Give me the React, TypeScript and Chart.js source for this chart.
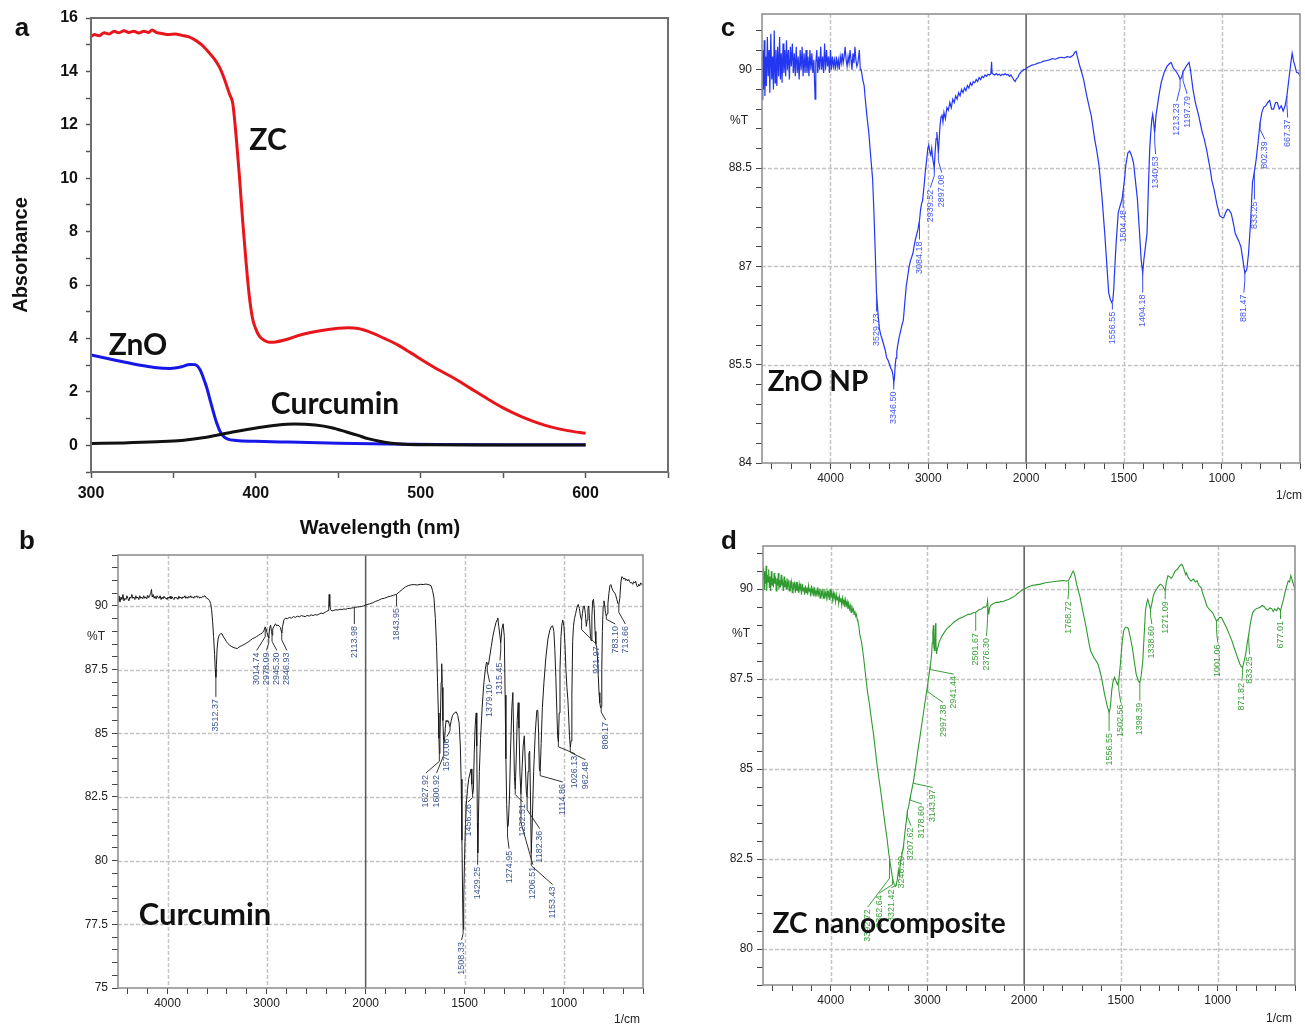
import React, { useEffect, useRef } from "react";
import { Chart, registerables } from "chart.js";

Chart.register(...registerables);

type Pt = [number, number];
type Ann = { w: number; from: number; to: number; text: string; lx?: number };

// ---------------- Panel a : UV-vis ----------------
const uvXLabels = [300, 400, 500, 600];
const uvYLabels = [0, 2, 4, 6, 8, 10, 12, 14, 16];

const zcUv: Pt[] = [
  [300, 15.3], [302, 15.38], [305, 15.34], [308, 15.45], [311, 15.4], [314, 15.5], [317, 15.45],
  [320, 15.52], [323, 15.46], [326, 15.5], [329, 15.44], [332, 15.5], [335, 15.46], [337, 15.55],
  [340, 15.45], [343, 15.42], [347, 15.38], [351, 15.4], [355, 15.35], [359, 15.3], [363, 15.18],
  [367, 15.0], [371, 14.75], [375, 14.45], [378, 14.15], [381, 13.7], [384, 13.15], [386, 12.8],
  [388, 11.6], [390, 10.1], [392, 8.4], [394, 6.9], [396, 5.6], [398, 4.75], [400, 4.35],
  [402, 4.1], [405, 3.93], [408, 3.86], [412, 3.87], [418, 3.95], [428, 4.15], [440, 4.3],
  [450, 4.38], [456, 4.4], [462, 4.37], [470, 4.22], [478, 4.0], [486, 3.76], [494, 3.46],
  [502, 3.15], [511, 2.82], [520, 2.52], [530, 2.14], [540, 1.76], [550, 1.4], [560, 1.1],
  [570, 0.86], [580, 0.67], [590, 0.54], [600, 0.45],
];

const znoUv: Pt[] = [
  [300, 3.38], [310, 3.25], [320, 3.12], [330, 3.0], [340, 2.9], [348, 2.88], [355, 2.94],
  [360, 3.03], [363, 3.02], [366, 2.85], [368, 2.55], [370, 2.2], [372, 1.75], [374, 1.3],
  [376, 0.88], [378, 0.56], [380, 0.36], [383, 0.23], [388, 0.18], [400, 0.15], [420, 0.12],
  [450, 0.08], [480, 0.05], [510, 0.03], [550, 0.02], [600, 0.02],
];

const curcuminUv: Pt[] = [
  [300, 0.07], [320, 0.09], [340, 0.13], [355, 0.18], [370, 0.3], [386, 0.5], [402, 0.67],
  [412, 0.75], [423, 0.8], [436, 0.76], [446, 0.66], [455, 0.5], [462, 0.37], [468, 0.25],
  [475, 0.15], [481, 0.09], [490, 0.04], [505, 0.02], [540, 0.01], [600, 0.01],
];

// ---------------- IR common ----------------
const irMajorWavenumbers = [4000, 3000, 2000, 1500, 1000];

// ---------------- Panel b : Curcumin IR ----------------
const curcuminIrYLabels = [75, 77.5, 80, 82.5, 85, 87.5, 90];
const curcuminIr: Pt[] = [
  [4500, 90.2], [4490, 90.4], [4480, 90.15], [4470, 90.35], [4460, 90.25], [4450, 90.45], [4440, 90.2],
  [4430, 90.3], [4420, 90.25], [4410, 90.4], [4400, 90.3], [4390, 90.2], [4380, 90.35], [4370, 90.3],
  [4360, 90.45], [4350, 90.3], [4340, 90.35], [4330, 90.25], [4320, 90.4], [4310, 90.3], [4300, 90.35],
  [4290, 90.25], [4280, 90.4], [4270, 90.3], [4260, 90.35], [4250, 90.28], [4240, 90.4], [4230, 90.3],
  [4220, 90.36], [4210, 90.28], [4200, 90.42], [4190, 90.32], [4180, 90.4], [4170, 90.5], [4162, 90.65],
  [4155, 90.35], [4145, 90.45], [4135, 90.3], [4125, 90.38], [4115, 90.28], [4105, 90.4], [4095, 90.33],
  [4085, 90.3], [4075, 90.4], [4065, 90.25], [4055, 90.35], [4045, 90.28], [4035, 90.38], [4025, 90.3],
  [4015, 90.32], [4005, 90.25], [3995, 90.35], [3985, 90.3], [3975, 90.38], [3965, 90.28], [3955, 90.36],
  [3945, 90.3], [3935, 90.25], [3925, 90.35], [3915, 90.3], [3905, 90.33], [3895, 90.26], [3885, 90.38],
  [3875, 90.3], [3865, 90.35], [3855, 90.28], [3845, 90.36], [3835, 90.32], [3825, 90.4], [3815, 90.3],
  [3805, 90.36], [3795, 90.3], [3785, 90.38], [3775, 90.33], [3765, 90.4], [3755, 90.32], [3745, 90.36],
  [3735, 90.3], [3725, 90.38], [3715, 90.34], [3705, 90.4], [3695, 90.33], [3685, 90.37], [3675, 90.3],
  [3665, 90.35], [3655, 90.32], [3645, 90.38], [3635, 90.36], [3622, 90.4], [3605, 90.3], [3590, 90.28],
  [3575, 90.2], [3565, 90.1], [3555, 89.85], [3545, 89.4], [3535, 88.8], [3525, 88.1], [3518, 87.5],
  [3512, 87.2], [3506, 87.7], [3500, 88.3], [3490, 88.7], [3478, 88.85], [3462, 88.92], [3450, 88.9],
  [3435, 88.78], [3420, 88.7], [3405, 88.6], [3390, 88.52], [3370, 88.45], [3350, 88.4], [3330, 88.36],
  [3310, 88.34], [3295, 88.33], [3280, 88.38], [3260, 88.42], [3240, 88.46], [3220, 88.5], [3200, 88.55],
  [3180, 88.6], [3160, 88.66], [3140, 88.72], [3120, 88.75], [3100, 88.8], [3080, 88.85], [3060, 88.9],
  [3040, 88.95], [3025, 89.05], [3014, 89.18], [3005, 89.1], [2995, 88.95], [2985, 88.8], [2978, 88.75],
  [2970, 89.1], [2960, 89.25], [2950, 89.0], [2945, 88.85], [2938, 89.1], [2925, 89.2], [2910, 89.3],
  [2900, 89.22], [2885, 89.25], [2870, 89.2], [2860, 89.15], [2850, 88.98], [2846, 88.95], [2838, 89.2],
  [2825, 89.45], [2810, 89.52], [2790, 89.5], [2770, 89.55], [2750, 89.52], [2730, 89.58], [2710, 89.55],
  [2690, 89.6], [2670, 89.57], [2650, 89.62], [2630, 89.6], [2610, 89.58], [2590, 89.63], [2570, 89.6],
  [2550, 89.65], [2530, 89.62], [2510, 89.66], [2490, 89.64], [2470, 89.68], [2450, 89.72], [2430, 89.7],
  [2410, 89.75], [2395, 89.78], [2380, 89.82], [2372, 90.1], [2368, 90.45], [2364, 90.3], [2360, 90.0],
  [2352, 89.85], [2340, 89.8], [2320, 89.83], [2300, 89.85], [2280, 89.84], [2260, 89.87], [2240, 89.86],
  [2220, 89.88], [2200, 89.87], [2180, 89.9], [2160, 89.9], [2140, 89.92], [2120, 89.93], [2100, 89.95],
  [2080, 89.96], [2060, 89.97], [2040, 89.98], [2020, 90.0], [2000, 90.04],
  [1980, 90.08], [1965, 90.12], [1950, 90.18], [1935, 90.22], [1920, 90.28], [1905, 90.3], [1890, 90.35],
  [1875, 90.38], [1860, 90.42], [1845, 90.45], [1830, 90.55], [1815, 90.65], [1800, 90.74], [1785, 90.8],
  [1770, 90.83], [1755, 90.84], [1740, 90.82], [1725, 90.85], [1710, 90.84], [1695, 90.86], [1680, 90.83],
  [1670, 90.8], [1662, 90.6], [1655, 90.3], [1648, 89.5], [1642, 88.4], [1637, 87.0], [1633, 85.8],
  [1630, 84.8], [1628, 84.2], [1625, 84.8], [1622, 85.8], [1619, 87.0], [1616, 87.73], [1613, 86.8],
  [1610, 85.5], [1606, 84.6], [1602, 84.7], [1598, 85.2], [1594, 85.5], [1590, 85.45], [1586, 85.5],
  [1582, 85.48], [1578, 85.35], [1574, 85.26], [1568, 85.5], [1561, 85.71], [1552, 85.8], [1543, 85.84],
  [1535, 85.7], [1528, 85.4], [1522, 84.5], [1518, 83.2], [1514, 80.8], [1510, 78.3], [1508, 77.3],
  [1505, 78.5], [1501, 80.0], [1497, 81.2], [1492, 82.2], [1486, 82.8], [1480, 83.2], [1474, 83.4],
  [1468, 83.6], [1464, 83.0], [1460, 82.6], [1456, 82.8], [1452, 84.2], [1447, 85.3], [1442, 85.8],
  [1439, 84.5], [1436, 81.5], [1434, 80.3], [1431, 81.5], [1426, 83.5], [1420, 84.8], [1412, 86.0],
  [1404, 86.9], [1396, 87.5], [1390, 87.8], [1385, 87.75], [1380, 87.7], [1374, 88.0], [1366, 88.4],
  [1358, 88.8], [1350, 89.1], [1342, 89.35], [1336, 89.45], [1333, 89.53], [1328, 89.2], [1318, 88.55],
  [1312, 89.1], [1306, 89.3], [1300, 88.8], [1296, 86.5], [1292, 84.0], [1288, 82.2], [1284, 81.3],
  [1280, 81.4], [1274, 82.5], [1268, 84.5], [1262, 86.0], [1257, 86.6], [1253, 85.0], [1249, 83.3],
  [1245, 82.8], [1240, 84.0], [1235, 85.5], [1230, 86.2], [1226, 85.2], [1221, 83.4], [1216, 82.6],
  [1211, 83.5], [1205, 84.5], [1199, 84.9], [1194, 83.8], [1189, 82.7], [1185, 82.5], [1180, 83.5],
  [1176, 84.2], [1172, 84.3], [1168, 82.5], [1164, 80.3], [1160, 81.2], [1152, 83.5], [1144, 85.0],
  [1136, 85.9], [1131, 85.9], [1127, 85.0], [1123, 83.6], [1119, 83.5], [1114, 84.6], [1108, 86.0],
  [1100, 87.0], [1090, 88.0], [1080, 88.7], [1070, 89.05], [1062, 89.2], [1056, 89.22], [1050, 89.0],
  [1045, 88.3], [1040, 87.2], [1035, 85.9], [1031, 84.9], [1027, 84.65], [1023, 85.8], [1019, 87.5],
  [1014, 88.8], [1009, 89.3], [1005, 89.45], [999, 89.2], [994, 88.5], [989, 87.5], [984, 86.8],
  [979, 86.3], [975, 85.6], [971, 84.9], [967, 84.45], [963, 84.7], [959, 86.5], [955, 88.6],
  [951, 89.2], [946, 89.5], [940, 89.7], [933, 89.95], [927, 90.06], [921, 89.9], [915, 89.55],
  [910, 89.45], [906, 89.7], [901, 89.98], [896, 90.0], [891, 89.7], [886, 89.2], [882, 89.45],
  [878, 89.9], [874, 90.0], [870, 89.5], [866, 88.9], [862, 88.64], [858, 89.6], [854, 90.2],
  [850, 90.26], [846, 89.9], [842, 89.0], [838, 88.5], [834, 88.38], [830, 88.0], [826, 87.3],
  [822, 86.6], [818, 86.2], [814, 86.0], [811, 86.04], [808, 87.5], [805, 89.0], [801, 90.0],
  [797, 90.2], [793, 90.0], [789, 89.7], [785, 89.6], [781, 89.7], [777, 90.1], [772, 90.5],
  [767, 90.8], [762, 90.84], [757, 90.7], [752, 90.6], [747, 90.55], [742, 90.5], [737, 90.4],
  [732, 90.25], [727, 90.1], [722, 90.06], [717, 90.3], [712, 90.9], [707, 91.15], [702, 91.12],
  [697, 91.05], [692, 91.1], [687, 91.0], [682, 91.05], [677, 90.98], [672, 91.04], [667, 90.95],
  [662, 90.9], [657, 90.92], [652, 90.85], [647, 90.95], [642, 90.9], [637, 90.97], [632, 90.8],
  [627, 90.75], [622, 90.85], [617, 90.78], [612, 90.9], [605, 90.85], [600, 90.8],
];
const curcuminPeaks: Ann[] = [
  { w: 3512, from: 87.2, to: 86.43, text: "3512.37" },
  { w: 3014, from: 89.15, to: 88.25, lx: 3100, text: "3014.74" },
  { w: 2978, from: 88.75, to: 88.25, lx: 3000, text: "2978.09" },
  { w: 2945, from: 88.85, to: 88.25, lx: 2896, text: "2945.30" },
  { w: 2847, from: 88.95, to: 88.25, lx: 2795, text: "2846.93" },
  { w: 2114, from: 89.94, to: 89.29, text: "2113.98" },
  { w: 1844, from: 90.45, to: 90.0, text: "1843.95" },
  { w: 1628, from: 84.2, to: 83.44, lx: 1696, text: "1627.92" },
  { w: 1606, from: 84.6, to: 83.44, lx: 1642, text: "1600.92" },
  { w: 1574, from: 85.26, to: 84.87, lx: 1590, text: "1570.06" },
  { w: 1508, from: 77.3, to: 76.88, lx: 1516, text: "1508.33" },
  { w: 1460, from: 82.6, to: 82.3, lx: 1483, text: "1456.26" },
  { w: 1434, from: 80.3, to: 79.84, lx: 1435, text: "1429.25" },
  { w: 1386, from: 87.75, to: 87.0, lx: 1374, text: "1379.10" },
  { w: 1318, from: 88.55, to: 87.86, lx: 1322, text: "1315.45" },
  { w: 1284, from: 81.3, to: 80.47, lx: 1276, text: "1274.95" },
  { w: 1245, from: 82.8, to: 82.3, lx: 1207, text: "1232.51" },
  { w: 1216, from: 82.6, to: 79.84, lx: 1156, text: "1206.51" },
  { w: 1185, from: 82.5, to: 81.25, lx: 1121, text: "1182.36" },
  { w: 1164, from: 80.3, to: 79.06, lx: 1056, text: "1153.43" },
  { w: 1119, from: 83.5, to: 83.09, lx: 1005, text: "1114.86" },
  { w: 1027, from: 84.65, to: 84.2, lx: 944, text: "1026.13" },
  { w: 967, from: 84.45, to: 83.96, lx: 890, text: "962.48" },
  { w: 910, from: 89.45, to: 88.5, lx: 836, text: "921.97" },
  { w: 811, from: 86.04, to: 85.52, lx: 788, text: "808.17" },
  { w: 785, from: 89.6, to: 89.29, lx: 740, text: "783.10" },
  { w: 722, from: 90.06, to: 89.29, lx: 689, text: "713.66" },
];

// ---------------- Panel c : ZnO NP IR ----------------
const znoIrYLabels = [84, 85.5, 87, 88.5, 90];
const znoIr: Pt[] = [
  [4700, 89.55], [4692, 90.3], [4685, 89.7], [4677, 90.45], [4670, 89.6], [4662, 90.2], [4655, 89.75],
  [4645, 90.5], [4637, 89.9], [4628, 90.3], [4620, 89.65], [4610, 90.55], [4600, 89.85], [4592, 90.2],
  [4583, 89.7], [4575, 90.6], [4566, 89.8], [4557, 90.3], [4548, 89.75], [4540, 90.35], [4530, 89.9],
  [4520, 90.5], [4512, 89.85], [4503, 90.25], [4495, 89.8], [4485, 90.4], [4476, 89.95], [4468, 90.3],
  [4458, 89.9], [4450, 90.45], [4440, 90.0], [4430, 90.3], [4420, 89.85], [4410, 90.35], [4400, 90.05],
  [4390, 90.4], [4380, 89.95], [4370, 90.25], [4360, 89.9], [4350, 90.35], [4340, 89.95], [4330, 90.2],
  [4320, 89.85], [4310, 90.3], [4300, 90.0], [4290, 90.35], [4280, 89.9], [4270, 90.25], [4260, 89.95],
  [4250, 90.3], [4240, 89.95], [4230, 90.2], [4220, 89.9], [4210, 90.3], [4200, 90.0], [4190, 90.25],
  [4180, 89.95], [4170, 90.15], [4157, 89.55], [4150, 90.1], [4140, 90.3], [4130, 89.95], [4120, 90.2],
  [4110, 90.0], [4100, 90.35], [4090, 90.0], [4080, 90.2], [4070, 89.95], [4060, 90.4], [4050, 90.0],
  [4040, 90.3], [4030, 90.05], [4020, 90.2], [4010, 89.95], [4000, 90.3], [3990, 90.0], [3980, 90.2],
  [3970, 90.05], [3960, 90.15], [3950, 90.0], [3940, 90.2], [3930, 90.05], [3920, 90.15], [3910, 90.0],
  [3900, 90.2], [3890, 90.1], [3880, 90.25], [3870, 90.1], [3860, 90.2], [3850, 90.35], [3840, 90.15],
  [3830, 90.05], [3820, 90.2], [3810, 90.1], [3800, 90.3], [3790, 90.15], [3780, 90.0], [3770, 90.25],
  [3760, 90.1], [3750, 90.35], [3740, 90.15], [3730, 90.05], [3720, 90.1], [3705, 90.3], [3695, 90.0],
  [3686, 90.0], [3670, 89.85], [3655, 89.75], [3647, 89.6], [3628, 89.3], [3608, 89.04], [3590, 88.7],
  [3569, 88.33], [3555, 87.8], [3542, 87.2], [3530, 86.6], [3515, 86.3], [3500, 86.05], [3485, 85.95],
  [3470, 85.88], [3455, 85.8], [3440, 85.72], [3425, 85.6], [3412, 85.57], [3395, 85.5], [3385, 85.45],
  [3373, 85.42], [3362, 85.35], [3353, 85.22], [3346, 85.3], [3338, 85.5], [3330, 85.6], [3322, 85.7],
  [3314, 85.78], [3300, 85.9], [3285, 86.0], [3270, 86.1], [3255, 86.18], [3240, 86.45], [3225, 86.7],
  [3210, 86.85], [3196, 87.0], [3180, 87.1], [3168, 87.15], [3157, 87.2], [3140, 87.35], [3125, 87.45],
  [3106, 87.56], [3090, 87.7], [3080, 87.85], [3070, 87.95], [3059, 88.0], [3045, 88.2], [3030, 88.45],
  [3015, 88.65], [3005, 88.8], [2995, 88.85], [2985, 88.75], [2975, 88.7], [2965, 88.8], [2955, 88.65],
  [2945, 88.55], [2939, 88.5], [2930, 88.75], [2920, 88.95], [2912, 89.05], [2905, 88.9], [2897, 88.73],
  [2890, 88.9], [2880, 89.15], [2870, 89.28], [2860, 89.32], [2850, 89.2], [2840, 89.35], [2825, 89.25],
  [2810, 89.42], [2795, 89.38], [2780, 89.5], [2765, 89.42], [2750, 89.55], [2735, 89.5], [2720, 89.6],
  [2705, 89.55], [2690, 89.65], [2675, 89.6], [2660, 89.7], [2645, 89.65], [2630, 89.72], [2615, 89.68],
  [2600, 89.76], [2585, 89.72], [2570, 89.8], [2555, 89.76], [2540, 89.82], [2525, 89.8], [2510, 89.85],
  [2495, 89.82], [2480, 89.88], [2465, 89.85], [2450, 89.9], [2435, 89.88], [2420, 89.92], [2405, 89.9],
  [2390, 89.93], [2375, 89.92], [2360, 89.94], [2353, 90.12], [2348, 89.95], [2335, 89.93], [2320, 89.92],
  [2305, 89.94], [2290, 89.92], [2275, 89.93], [2260, 89.91], [2245, 89.93], [2230, 89.92], [2215, 89.94],
  [2200, 89.92], [2185, 89.93], [2170, 89.9], [2155, 89.92], [2140, 89.88], [2125, 89.84], [2112, 89.82],
  [2100, 89.86], [2085, 89.88], [2070, 89.93], [2055, 89.96], [2040, 89.98], [2025, 90.0], [2010, 90.0],
  [2000, 90.02], [1985, 90.05], [1970, 90.07], [1955, 90.08], [1940, 90.1], [1925, 90.11], [1910, 90.13],
  [1895, 90.14], [1880, 90.15], [1865, 90.17], [1850, 90.16], [1835, 90.18], [1820, 90.19], [1805, 90.18],
  [1790, 90.2], [1775, 90.19], [1760, 90.22], [1750, 90.27], [1744, 90.28], [1738, 90.2], [1728, 90.08],
  [1718, 89.98], [1706, 89.85], [1690, 89.6], [1675, 89.4], [1667, 89.3], [1650, 88.95], [1638, 88.75],
  [1627, 88.53], [1612, 88.05], [1598, 87.5], [1588, 87.05], [1578, 86.6], [1570, 86.5], [1563, 86.45],
  [1557, 86.48], [1552, 86.65], [1549, 86.85], [1540, 87.35], [1529, 87.82], [1520, 87.92], [1510, 88.02],
  [1504, 88.15], [1498, 88.3], [1490, 88.55], [1480, 88.73], [1471, 88.76], [1462, 88.7], [1451, 88.58],
  [1441, 88.3], [1431, 88.02], [1420, 87.5], [1412, 87.1], [1404, 86.9], [1398, 87.1], [1390, 87.3],
  [1382, 87.5], [1375, 88.2], [1368, 88.8], [1363, 89.04], [1357, 89.25], [1353, 89.32], [1348, 89.2],
  [1343, 89.04], [1336, 89.3], [1324, 89.55], [1310, 89.8], [1294, 89.96], [1280, 90.05], [1268, 90.09],
  [1259, 90.11], [1248, 90.03], [1235, 89.98], [1222, 89.92], [1213, 89.86], [1206, 89.88], [1198, 89.97],
  [1192, 90.0], [1180, 90.06], [1167, 90.11], [1160, 90.0], [1147, 89.7], [1135, 89.5], [1118, 89.3],
  [1100, 89.05], [1090, 88.95], [1078, 88.79], [1060, 88.5], [1050, 88.3], [1039, 88.17], [1025, 87.95],
  [1010, 87.77], [1000, 87.75], [990, 87.74], [980, 87.82], [971, 87.87], [962, 87.86], [951, 87.8],
  [940, 87.65], [931, 87.5], [915, 87.4], [902, 87.3], [892, 87.1], [882, 86.9], [872, 86.95],
  [863, 87.2], [852, 87.7], [843, 88.28], [833, 88.45], [824, 88.63], [814, 88.9], [804, 89.19],
  [795, 89.35], [785, 89.43], [775, 89.45], [765, 89.5], [755, 89.53], [745, 89.4], [735, 89.4],
  [725, 89.5], [716, 89.5], [706, 89.4], [696, 89.45], [686, 89.37], [676, 89.45], [667, 89.6],
  [657, 89.85], [647, 90.1], [640, 90.25], [632, 90.12], [625, 90.05], [618, 89.96], [608, 89.95],
  [598, 89.9],
];
const znoPeaks: Ann[] = [
  { w: 3530, from: 86.6, to: 86.31, text: "3529.73" },
  { w: 3353, from: 85.22, to: 85.12, text: "3346.50" },
  { w: 3090, from: 87.7, to: 87.41, text: "3084.18" },
  { w: 2939, from: 88.5, to: 88.2, lx: 2980, text: "2939.52" },
  { w: 2897, from: 88.73, to: 88.43, lx: 2863, text: "2897.08" },
  { w: 1559, from: 86.45, to: 86.34, text: "1556.55" },
  { w: 1504, from: 88.15, to: 87.89, text: "1504.48" },
  { w: 1404, from: 86.9, to: 86.6, text: "1404.18" },
  { w: 1343, from: 89.04, to: 88.71, lx: 1338, text: "1340.53" },
  { w: 1213, from: 89.86, to: 89.52, lx: 1230, text: "1213.23" },
  { w: 1198, from: 89.97, to: 89.63, lx: 1177, text: "1197.79" },
  { w: 882, from: 86.9, to: 86.6, lx: 887, text: "881.47" },
  { w: 833, from: 88.45, to: 88.02, text: "833.25" },
  { w: 804, from: 89.19, to: 88.94, lx: 780, text: "802.39" },
  { w: 667, from: 89.6, to: 89.27, lx: 663, text: "667.37" },
];

// ---------------- Panel d : ZC nanocomposite IR ----------------
const zcIrYLabels = [80, 82.5, 85, 87.5, 90];
const zcIr: Pt[] = [
  [4700, 90.3], [4694, 90.6], [4688, 90.0], [4681, 90.5], [4674, 90.15], [4668, 90.65], [4661, 89.95],
  [4655, 90.4], [4648, 90.2], [4641, 90.55], [4635, 90.05], [4628, 90.35], [4621, 89.95], [4614, 90.5],
  [4607, 90.1], [4600, 90.3], [4592, 90.05], [4585, 90.45], [4578, 90.15], [4571, 90.35], [4563, 89.95],
  [4556, 90.3], [4549, 90.1], [4542, 90.45], [4535, 90.0], [4527, 90.25], [4520, 90.05], [4512, 90.4],
  [4505, 90.1], [4498, 90.2], [4490, 89.95], [4482, 90.35], [4475, 90.05], [4467, 90.25], [4460, 90.0],
  [4452, 90.3], [4444, 90.1], [4437, 90.2], [4429, 89.95], [4421, 90.25], [4414, 90.05], [4406, 90.2],
  [4398, 89.9], [4390, 90.2], [4382, 90.05], [4374, 90.15], [4366, 89.9], [4358, 90.2], [4350, 89.95],
  [4342, 90.1], [4334, 89.9], [4326, 90.15], [4318, 90.0], [4310, 90.1], [4302, 89.85], [4294, 90.15],
  [4286, 89.95], [4278, 90.05], [4270, 89.85], [4262, 90.1], [4254, 89.9], [4246, 90.05], [4238, 89.85],
  [4230, 90.1], [4222, 89.95], [4214, 90.0], [4206, 89.8], [4198, 90.1], [4190, 89.9], [4182, 90.0],
  [4174, 89.8], [4166, 90.05], [4158, 89.85], [4150, 89.95], [4142, 89.8], [4134, 90.05], [4126, 89.85],
  [4118, 89.95], [4110, 89.75], [4102, 90.0], [4094, 89.85], [4086, 89.95], [4078, 89.75], [4070, 90.0],
  [4062, 89.8], [4054, 89.9], [4046, 89.75], [4038, 89.95], [4030, 89.8], [4022, 89.9], [4014, 89.7],
  [4006, 90.0], [3998, 89.8], [3990, 89.9], [3982, 89.7], [3974, 89.9], [3966, 89.75], [3958, 89.85],
  [3950, 89.65], [3942, 89.85], [3934, 89.7], [3926, 89.8], [3918, 89.6], [3910, 89.8], [3902, 89.65],
  [3894, 89.75], [3886, 89.55], [3878, 89.75], [3870, 89.6], [3862, 89.7], [3854, 89.5], [3846, 89.7],
  [3838, 89.55], [3830, 89.65], [3822, 89.45], [3814, 89.6], [3806, 89.45], [3798, 89.55], [3790, 89.35],
  [3782, 89.55], [3774, 89.4], [3766, 89.45], [3758, 89.3], [3750, 89.4], [3742, 89.25], [3734, 89.3],
  [3726, 89.15], [3718, 89.1], [3708, 88.95], [3700, 88.75],
  [3679, 88.5], [3660, 88.1], [3639, 87.6], [3620, 87.15], [3599, 86.8], [3580, 86.4], [3559, 86.0],
  [3520, 85.1], [3479, 84.3], [3440, 83.5], [3419, 83.1], [3399, 82.64], [3380, 82.3], [3360, 81.95],
  [3345, 81.8], [3330, 81.75], [3321, 81.8], [3310, 81.95], [3300, 82.2], [3290, 82.05], [3279, 82.4],
  [3265, 82.6], [3246, 82.9], [3230, 83.3], [3218, 83.56], [3207, 83.84], [3195, 83.95], [3178, 84.21],
  [3160, 84.45], [3143, 84.68], [3120, 85.1], [3100, 85.5], [3078, 85.88], [3050, 86.4], [3018, 86.99],
  [2997, 87.35], [2978, 87.73], [2960, 88.1], [2950, 88.5], [2944, 88.8], [2938, 89.0], [2934, 88.4],
  [2928, 88.3], [2922, 88.6], [2916, 89.05], [2912, 88.5], [2906, 88.2], [2898, 88.35], [2890, 88.4],
  [2878, 88.55], [2865, 88.6], [2850, 88.7], [2838, 88.75], [2820, 88.82], [2800, 88.9], [2780, 88.95],
  [2758, 89.0], [2740, 89.05], [2720, 89.1], [2700, 89.13], [2680, 89.17], [2660, 89.2], [2637, 89.22],
  [2620, 89.25], [2600, 89.27], [2580, 89.3], [2560, 89.3], [2540, 89.33], [2520, 89.35], [2501, 89.36],
  [2480, 89.4], [2460, 89.44], [2440, 89.45], [2420, 89.5], [2400, 89.5], [2385, 89.55], [2378, 89.68],
  [2372, 89.4], [2366, 89.3], [2358, 89.48], [2345, 89.55], [2330, 89.58], [2317, 89.6], [2300, 89.62],
  [2280, 89.64], [2260, 89.63], [2240, 89.66], [2220, 89.65], [2200, 89.68], [2180, 89.7], [2156, 89.72],
  [2130, 89.76], [2100, 89.8], [2076, 89.86], [2050, 89.92], [2025, 89.97], [2000, 90.0],
  [1980, 90.06], [1960, 90.1], [1940, 90.12], [1916, 90.14], [1890, 90.18], [1860, 90.2], [1830, 90.22],
  [1816, 90.23], [1795, 90.24], [1780, 90.22], [1770, 90.25], [1760, 90.35], [1750, 90.48], [1745, 90.5],
  [1738, 90.38], [1727, 90.1], [1712, 89.8], [1697, 89.4], [1680, 88.95], [1665, 88.5], [1657, 88.29],
  [1640, 88.1], [1627, 88.0], [1617, 87.9], [1605, 87.65], [1597, 87.45], [1585, 87.1], [1577, 86.9],
  [1568, 86.7], [1561, 86.57], [1555, 86.7], [1547, 87.2], [1540, 87.45], [1533, 87.55], [1525, 87.45],
  [1518, 87.35], [1511, 87.45], [1503, 87.9], [1493, 88.56], [1485, 88.85], [1477, 88.94], [1469, 88.94],
  [1461, 88.9], [1451, 88.65], [1441, 88.38], [1431, 88.0], [1421, 87.64], [1410, 87.45], [1402, 87.41],
  [1395, 87.6], [1387, 88.0], [1380, 88.7], [1373, 89.4], [1367, 89.6], [1361, 89.72], [1355, 89.6],
  [1347, 89.44], [1340, 89.6], [1333, 89.8], [1327, 89.9], [1310, 90.05], [1297, 90.14], [1285, 90.1],
  [1276, 90.0], [1271, 89.96], [1265, 90.2], [1257, 90.37], [1248, 90.35], [1240, 90.3], [1233, 90.35],
  [1220, 90.5], [1207, 90.56], [1197, 90.64], [1187, 90.69], [1180, 90.65], [1172, 90.52], [1165, 90.4],
  [1161, 90.45], [1150, 90.3], [1137, 90.23], [1125, 90.28], [1115, 90.2], [1106, 90.24], [1096, 90.1],
  [1086, 90.05], [1075, 89.85], [1065, 89.7], [1056, 89.54], [1045, 89.45], [1035, 89.4], [1026, 89.35],
  [1015, 89.22], [1006, 89.12], [998, 89.15], [990, 89.22], [980, 89.21], [970, 89.1], [955, 88.94],
  [940, 88.75], [925, 88.55], [915, 88.38], [900, 88.15], [885, 87.92], [878, 87.85], [871, 87.82],
  [863, 88.0], [855, 88.19], [847, 88.5], [839, 88.75], [829, 89.1], [819, 89.35], [809, 89.42],
  [800, 89.46], [790, 89.48], [780, 89.5], [770, 89.55], [760, 89.52], [750, 89.45], [740, 89.42],
  [730, 89.48], [720, 89.46], [712, 89.38], [705, 89.45], [695, 89.4], [688, 89.48], [680, 89.45],
  [675, 89.4], [668, 89.55], [660, 89.7], [650, 89.95], [642, 90.1], [635, 90.23], [628, 90.2],
  [622, 90.38], [618, 90.32], [612, 90.2], [606, 90.1], [600, 90.0],
];
const zcPeaks: Ann[] = [
  { w: 3392, from: 82.5, to: 81.16, lx: 3619, text: "3392.72" },
  { w: 3362, from: 81.95, to: 81.55, lx: 3499, text: "3362.64" },
  { w: 3321, from: 81.8, to: 81.71, lx: 3371, text: "3321.42" },
  { w: 3246, from: 82.9, to: 82.64, lx: 3271, text: "3246.20" },
  { w: 3207, from: 83.84, to: 83.43, lx: 3170, text: "3207.62" },
  { w: 3178, from: 84.21, to: 84.03, lx: 3058, text: "3178.60" },
  { w: 3143, from: 84.68, to: 84.49, lx: 2946, text: "3143.97" },
  { w: 2997, from: 87.35, to: 86.85, lx: 2838, text: "2997.38" },
  { w: 2970, from: 87.85, to: 87.64, lx: 2729, text: "2941.44" },
  { w: 2501, from: 89.36, to: 88.84, text: "2501.67" },
  { w: 2378, from: 89.5, to: 88.7, lx: 2389, text: "2376.30" },
  { w: 1770, from: 90.22, to: 89.72, lx: 1773, text: "1768.72" },
  { w: 1561, from: 86.57, to: 86.06, text: "1556.55" },
  { w: 1511, from: 87.45, to: 86.85, lx: 1501, text: "1502.56" },
  { w: 1402, from: 87.41, to: 86.9, text: "1398.39" },
  { w: 1347, from: 89.44, to: 89.03, lx: 1340, text: "1338.60" },
  { w: 1271, from: 89.96, to: 89.72, text: "1271.09" },
  { w: 1006, from: 89.12, to: 88.52, lx: 1000, text: "1001.06" },
  { w: 871, from: 87.82, to: 87.45, lx: 875, text: "871.82" },
  { w: 839, from: 88.75, to: 88.19, lx: 835, text: "833.25" },
  { w: 675, from: 89.4, to: 89.17, text: "677.01" },
];

// ---------------- helpers ----------------
const SANS = '"Liberation Sans", Arial, sans-serif';
const NARROW = '"Liberation Sans Narrow", "Liberation Sans", Arial, sans-serif';

// IR plots: the wavenumber scale is expanded 2x below 2000 1/cm
const toAxis = (w: number) => (w >= 2000 ? w : 2 * w - 2000);
const near = (a: number, b: number) => Math.abs(a - b) < 1e-6;

function range(a: number, b: number, step: number) {
  const out: number[] = [];
  for (let v = a; v <= b + 1e-9; v += step) out.push(Math.round(v * 100) / 100);
  return out;
}

function framePlugin(color: string, width: number) {
  return {
    id: "frame",
    afterDraw(chart: any) {
      const { ctx, chartArea: a } = chart;
      ctx.save();
      ctx.strokeStyle = color;
      ctx.lineWidth = width;
      ctx.strokeRect(a.left, a.top, a.right - a.left, a.bottom - a.top);
      ctx.restore();
    },
  };
}

function irGridPlugin(yLabels: number[]) {
  return {
    id: "irgrid",
    beforeDatasetsDraw(chart: any) {
      const { ctx, chartArea: a } = chart;
      const xs = chart.scales.x;
      const ys = chart.scales.y;
      ctx.save();
      ctx.strokeStyle = "#c4c4c4";
      ctx.lineWidth = 1.5;
      ctx.setLineDash([4, 2]);
      for (const v of yLabels) {
        const y = Math.round(ys.getPixelForValue(v)) + 0.5;
        if (y <= a.top + 1 || y >= a.bottom - 1) continue;
        ctx.beginPath();
        ctx.moveTo(a.left, y);
        ctx.lineTo(a.right, y);
        ctx.stroke();
      }
      for (const w of irMajorWavenumbers) {
        if (w === 2000) continue;
        const x = Math.round(xs.getPixelForValue(toAxis(w))) + 0.5;
        ctx.beginPath();
        ctx.moveTo(x, a.top);
        ctx.lineTo(x, a.bottom);
        ctx.stroke();
      }
      ctx.setLineDash([]);
      ctx.strokeStyle = "#5a5a5a";
      ctx.lineWidth = 1.5;
      const xd = xs.getPixelForValue(toAxis(2000));
      ctx.beginPath();
      ctx.moveTo(xd, a.top);
      ctx.lineTo(xd, a.bottom);
      ctx.stroke();
      ctx.restore();
    },
  };
}

function peaksPlugin(anns: Ann[], lineColor: string, textColor: string) {
  return {
    id: "peaks",
    afterDatasetsDraw(chart: any) {
      const { ctx } = chart;
      const xs = chart.scales.x;
      const ys = chart.scales.y;
      ctx.save();
      ctx.lineWidth = 1;
      ctx.font = `9px ${NARROW}`;
      for (const a of anns) {
        const px = xs.getPixelForValue(toAxis(a.w));
        const lx = xs.getPixelForValue(toAxis(a.lx ?? a.w));
        const y1 = ys.getPixelForValue(a.from);
        const y2 = ys.getPixelForValue(a.to);
        ctx.strokeStyle = lineColor;
        ctx.beginPath();
        ctx.moveTo(px, y1);
        if (Math.abs(lx - px) > 0.5) ctx.lineTo(px, y1 + (y2 - y1) * 0.4);
        ctx.lineTo(lx, y2);
        ctx.stroke();
        ctx.save();
        ctx.fillStyle = textColor;
        ctx.translate(lx, y2 + 2);
        ctx.rotate(-Math.PI / 2);
        ctx.textAlign = "right";
        ctx.textBaseline = "middle";
        ctx.fillText(a.text, 0, 0);
        ctx.restore();
      }
      ctx.restore();
    },
  };
}

type IrCfg = {
  data: Pt[];
  color: string;
  lineWidth: number;
  peaks: Ann[];
  peakLine: string;
  peakText: string;
  yMin: number;
  yMax: number;
  yStep: number;
  yLabels: number[];
  wMax: number;
  yWidth: number;
  xHeight: number;
  padTop: number;
  padRight: number;
};

function buildIr(c: IrCfg) {
  const xTicks = range(-800, toAxis(c.wMax) - 100, 200);
  const yTicks = range(c.yMin, c.yMax, c.yStep);
  const labelOf = (u: number) => {
    const w = irMajorWavenumbers.find((m) => near(toAxis(m), u));
    return w === undefined ? "" : String(w);
  };
  return {
    type: "line",
    data: {
      datasets: [
        {
          data: c.data.map(([w, t]) => ({ x: toAxis(w), y: t })),
          borderColor: c.color,
          borderWidth: c.lineWidth,
          pointRadius: 0,
          tension: 0,
          fill: false,
        },
      ],
    },
    options: {
      responsive: false,
      animation: false,
      devicePixelRatio: 1,
      events: [],
      layout: { padding: { top: c.padTop, right: c.padRight, left: 0, bottom: 0 } },
      plugins: { legend: { display: false }, tooltip: { enabled: false } },
      scales: {
        x: {
          type: "linear",
          reverse: true,
          min: -800,
          max: toAxis(c.wMax),
          afterBuildTicks: (s: any) => {
            s.ticks = xTicks.map((v) => ({ value: v }));
          },
          afterFit: (s: any) => {
            s.height = c.xHeight;
          },
          ticks: {
            autoSkip: false,
            maxRotation: 0,
            minRotation: 0,
            padding: 2,
            color: "#222",
            font: { family: SANS, size: 12 },
            callback: (v: any) => labelOf(Number(v)),
          },
          grid: { drawOnChartArea: false, drawTicks: true, tickLength: 6, tickColor: "#444", tickWidth: 1 },
          border: { display: false },
        },
        y: {
          type: "linear",
          min: c.yMin,
          max: c.yMax,
          afterBuildTicks: (s: any) => {
            s.ticks = yTicks.map((v) => ({ value: v }));
          },
          afterFit: (s: any) => {
            s.width = c.yWidth;
          },
          ticks: {
            autoSkip: false,
            padding: 4,
            color: "#222",
            font: { family: SANS, size: 12 },
            callback: (v: any) => {
              const m = c.yLabels.find((L) => near(L, Number(v)));
              return m === undefined ? "" : String(m);
            },
          },
          grid: { drawOnChartArea: false, drawTicks: true, tickLength: 6, tickColor: "#444", tickWidth: 1 },
          border: { display: false },
        },
      },
    },
    plugins: [irGridPlugin(c.yLabels), peaksPlugin(c.peaks, c.peakLine, c.peakText), framePlugin("#8a8a8a", 1.5)],
  };
}

function buildUv() {
  const xTicks = range(300, 650, 50);
  const yTicks = range(-1, 16, 1);
  const ds = (d: Pt[], color: string) => ({
    data: d.map(([x, y]) => ({ x, y })),
    borderColor: color,
    borderWidth: 3,
    pointRadius: 0,
    cubicInterpolationMode: "monotone",
    fill: false,
  });
  return {
    type: "line",
    data: {
      datasets: [ds(curcuminUv, "#111111"), ds(znoUv, "#1717e8"), ds(zcUv, "#e8161c")],
    },
    options: {
      responsive: false,
      animation: false,
      devicePixelRatio: 1,
      events: [],
      layout: { padding: { top: 18, right: 22, left: 0, bottom: 0 } },
      plugins: { legend: { display: false }, tooltip: { enabled: false } },
      scales: {
        x: {
          type: "linear",
          min: 300,
          max: 650,
          afterBuildTicks: (s: any) => {
            s.ticks = xTicks.map((v) => ({ value: v }));
          },
          afterFit: (s: any) => {
            s.height = 48;
          },
          ticks: {
            autoSkip: false,
            maxRotation: 0,
            minRotation: 0,
            padding: 6,
            color: "#111",
            font: { family: NARROW, size: 16, weight: "bold" },
            callback: (v: any) => (uvXLabels.includes(Number(v)) ? String(v) : ""),
          },
          grid: { drawOnChartArea: false, drawTicks: true, tickLength: 6, tickColor: "#555", tickWidth: 1.5 },
          border: { display: false },
        },
        y: {
          type: "linear",
          min: -1,
          max: 16,
          afterBuildTicks: (s: any) => {
            s.ticks = yTicks.map((v) => ({ value: v }));
          },
          afterFit: (s: any) => {
            s.width = 91;
          },
          ticks: {
            autoSkip: false,
            padding: 8,
            color: "#111",
            font: { family: NARROW, size: 16, weight: "bold" },
            callback: (v: any) => (uvYLabels.includes(Number(v)) ? String(v) : ""),
          },
          grid: { drawOnChartArea: false, drawTicks: true, tickLength: 5, tickColor: "#555", tickWidth: 1.5 },
          border: { display: false },
        },
      },
    },
    plugins: [framePlugin("#6e6e6e", 2)],
  };
}

function ChartCanvas(props: { left: number; top: number; width: number; height: number; build: () => any }) {
  const ref = useRef<HTMLCanvasElement | null>(null);
  useEffect(() => {
    const chart = new Chart(ref.current as HTMLCanvasElement, props.build());
    return () => chart.destroy();
  }, []);
  return (
    <canvas
      ref={ref}
      width={props.width}
      height={props.height}
      style={{ position: "absolute", left: props.left, top: props.top, width: props.width, height: props.height }}
    />
  );
}

function Txt(props: { x: number; y: number; children: React.ReactNode; style?: React.CSSProperties; rotate?: number }) {
  return (
    <div
      style={{
        position: "absolute",
        left: props.x,
        top: props.y,
        transform: `translate(-50%, -50%)${props.rotate ? ` rotate(${props.rotate}deg)` : ""}`,
        whiteSpace: "nowrap",
        lineHeight: 1,
        ...props.style,
      }}
    >
      {props.children}
    </div>
  );
}

const letterStyle: React.CSSProperties = { fontFamily: SANS, fontWeight: 700, fontSize: 26, color: "#111" };
const nameStyle: React.CSSProperties = { fontFamily: "Lato, 'Open Sans', sans-serif", fontWeight: 700, color: "#111" };
const smallStyle: React.CSSProperties = { fontFamily: SANS, fontSize: 12, color: "#222" };

export default function App() {
  return (
    <div style={{ position: "absolute", left: 0, top: 0, width: 1305, height: 1024, background: "#fff", overflow: "hidden" }}>
      <ChartCanvas left={0} top={0} width={690} height={520} build={buildUv} />
      <ChartCanvas
        left={0}
        top={530}
        width={660}
        height={494}
        build={() =>
          buildIr({
            data: curcuminIr, color: "#1a1a1a", lineWidth: 1, peaks: curcuminPeaks, peakLine: "#333", peakText: "#3d5590",
            yMin: 75, yMax: 92, yStep: 0.5, yLabels: curcuminIrYLabels, wMax: 4500,
            yWidth: 118, xHeight: 36, padTop: 25, padRight: 17,
          })
        }
      />
      <ChartCanvas
        left={690}
        top={0}
        width={615}
        height={510}
        build={() =>
          buildIr({
            data: znoIr, color: "#2336f2", lineWidth: 1.2, peaks: znoPeaks, peakLine: "#3a4cf2", peakText: "#4658ee",
            yMin: 84, yMax: 90.85, yStep: 0.3, yLabels: znoIrYLabels, wMax: 4700,
            yWidth: 72, xHeight: 47, padTop: 14, padRight: 5,
          })
        }
      />
      <ChartCanvas
        left={690}
        top={520}
        width={615}
        height={504}
        build={() =>
          buildIr({
            data: zcIr, color: "#2f9a2f", lineWidth: 1.1, peaks: zcPeaks, peakLine: "#3a9f3a", peakText: "#3a9f3a",
            yMin: 79, yMax: 91.2, yStep: 0.5, yLabels: zcIrYLabels, wMax: 4700,
            yWidth: 73, xHeight: 39, padTop: 26, padRight: 10,
          })
        }
      />

      {/* panel a texts */}
      <Txt x={22} y={27} style={letterStyle}>a</Txt>
      <Txt x={20} y={255} rotate={-90} style={{ fontFamily: SANS, fontWeight: 700, fontSize: 20, color: "#111" }}>Absorbance</Txt>
      <Txt x={380} y={527} style={{ fontFamily: NARROW, fontWeight: 700, fontSize: 20, color: "#111" }}>Wavelength (nm)</Txt>
      <Txt x={268} y={138} style={{ ...nameStyle, fontSize: 30 }}>ZC</Txt>
      <Txt x={138} y={343} style={{ ...nameStyle, fontSize: 30 }}>ZnO</Txt>
      <Txt x={335} y={402} style={{ ...nameStyle, fontSize: 30 }}>Curcumin</Txt>

      {/* panel b texts */}
      <Txt x={27} y={540} style={letterStyle}>b</Txt>
      <Txt x={96} y={636} style={smallStyle}>%T</Txt>
      <Txt x={627} y={1019} style={smallStyle}>1/cm</Txt>
      <Txt x={205} y={913} style={{ ...nameStyle, fontSize: 31 }}>Curcumin</Txt>

      {/* panel c texts */}
      <Txt x={728} y={27} style={letterStyle}>c</Txt>
      <Txt x={739} y={120} style={smallStyle}>%T</Txt>
      <Txt x={1289} y={495} style={smallStyle}>1/cm</Txt>
      <Txt x={818} y={380} style={{ ...nameStyle, fontSize: 28 }}>ZnO NP</Txt>

      {/* panel d texts */}
      <Txt x={729} y={540} style={letterStyle}>d</Txt>
      <Txt x={741} y={633} style={smallStyle}>%T</Txt>
      <Txt x={1279} y={1018} style={smallStyle}>1/cm</Txt>
      <Txt x={889} y={922} style={{ ...nameStyle, fontSize: 28 }}>ZC nanocomposite</Txt>
    </div>
  );
}
